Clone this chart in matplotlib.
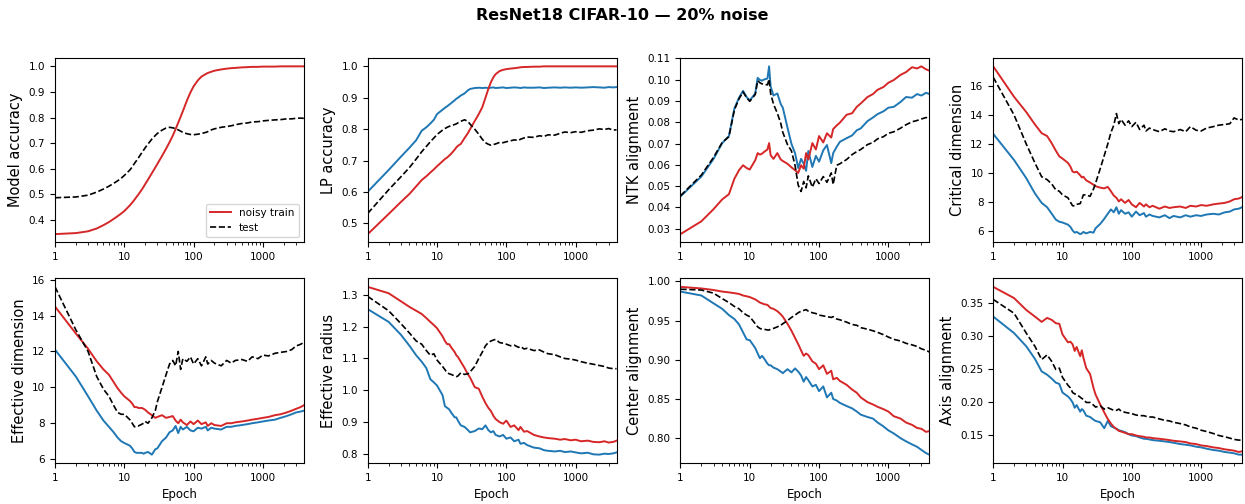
import matplotlib
matplotlib.use("Agg")
import matplotlib.pyplot as plt
from matplotlib.ticker import FuncFormatter, NullFormatter, LogLocator, MultipleLocator

# ---------------- data ----------------
epochs = [1, 2, 3, 4, 5, 6, 7, 8, 9, 10,
          12, 13, 14, 15, 16, 18, 19, 20,
          22, 25, 28, 30, 35, 40, 45, 50, 55, 60, 65, 70,
          80, 90, 100, 115, 130, 150, 160, 180, 200,
          250, 300, 350, 400, 500, 600, 700, 850, 1000,
          1200, 1500, 1800, 2200, 2600, 3000, 3500, 3900]

acc_noisy = [0.345, 0.349, 0.356, 0.367, 0.380, 0.392, 0.404, 0.415, 0.425, 0.435,
             0.457, 0.468, 0.479, 0.490, 0.500, 0.520, 0.530, 0.540,
             0.558, 0.583, 0.605, 0.619, 0.650, 0.678, 0.704, 0.729, 0.755, 0.780, 0.803, 0.825,
             0.866, 0.898, 0.922, 0.945, 0.960, 0.970, 0.974, 0.979, 0.983,
             0.988, 0.991, 0.993, 0.994, 0.996, 0.997, 0.998, 0.998, 0.999,
             0.999, 0.999, 1.000, 1.000, 1.000, 1.000, 1.000, 1.000]
acc_test = [0.487, 0.490, 0.497, 0.509, 0.521, 0.532, 0.543, 0.553, 0.563, 0.574,
            0.595, 0.607, 0.621, 0.632, 0.643, 0.664, 0.673, 0.682,
            0.697, 0.716, 0.730, 0.738, 0.751, 0.759, 0.762, 0.760, 0.757, 0.752, 0.747, 0.742,
            0.737, 0.734, 0.733, 0.735, 0.738, 0.742, 0.745, 0.752, 0.756,
            0.762, 0.765, 0.768, 0.772, 0.777, 0.779, 0.783, 0.784, 0.787,
            0.789, 0.791, 0.792, 0.795, 0.795, 0.797, 0.798, 0.797]

lp_noisy = [0.466, 0.530, 0.568, 0.594, 0.618, 0.638, 0.650, 0.662, 0.672, 0.682,
            0.698, 0.705, 0.710, 0.716, 0.722, 0.735, 0.742, 0.747,
            0.753, 0.772, 0.788, 0.800, 0.826, 0.848, 0.870, 0.900, 0.928, 0.950, 0.965, 0.975,
            0.985, 0.989, 0.991, 0.993, 0.994, 0.996, 0.997, 0.998, 0.998,
            0.999, 0.999, 1.000, 1.000, 1.000, 1.000, 1.000, 1.000, 1.000,
            1.000, 1.000, 1.000, 1.000, 1.000, 1.000, 1.000, 1.000]
lp_clean = [0.601, 0.670, 0.712, 0.741, 0.765, 0.795, 0.806, 0.818, 0.830, 0.848,
            0.862, 0.868, 0.873, 0.878, 0.883, 0.892, 0.897, 0.900,
            0.907, 0.914, 0.924, 0.928, 0.931, 0.932, 0.931, 0.932, 0.931, 0.932, 0.933, 0.931,
            0.932, 0.933, 0.931, 0.932, 0.933, 0.932, 0.931, 0.933, 0.932,
            0.932, 0.933, 0.931, 0.932, 0.933, 0.932, 0.933, 0.932, 0.933,
            0.932, 0.933, 0.934, 0.933, 0.932, 0.934, 0.933, 0.934]
lp_test = [0.532, 0.607, 0.648, 0.678, 0.705, 0.728, 0.745, 0.760, 0.772, 0.783,
           0.797, 0.802, 0.806, 0.809, 0.811, 0.815, 0.817, 0.820,
           0.825, 0.830, 0.824, 0.816, 0.800, 0.784, 0.768, 0.757, 0.752, 0.749, 0.751, 0.753,
           0.758, 0.757, 0.760, 0.763, 0.766, 0.764, 0.768, 0.772, 0.775,
           0.774, 0.779, 0.777, 0.782, 0.781, 0.787, 0.791, 0.789, 0.792,
           0.790, 0.795, 0.797, 0.801, 0.799, 0.802, 0.797, 0.798]

ntk_noisy = [0.0275, 0.0335, 0.0392, 0.0438, 0.0462, 0.0535, 0.0575, 0.0598, 0.0585, 0.0578,
             0.0622, 0.0655, 0.0648, 0.0652, 0.0660, 0.0672, 0.0702, 0.0645,
             0.0628, 0.0655, 0.0625, 0.0618, 0.0605, 0.0588, 0.0575, 0.0562, 0.0598, 0.0582, 0.0655, 0.0625,
             0.0702, 0.0672, 0.0735, 0.0705, 0.0748, 0.0728, 0.0768, 0.0785, 0.0798,
             0.0835, 0.0842, 0.0872, 0.0888, 0.0918, 0.0932, 0.0952, 0.0965, 0.0985,
             0.0998, 0.1022, 0.1035, 0.1058, 0.1052, 0.1062, 0.1048, 0.1042]
ntk_clean = [0.0452, 0.0545, 0.0628, 0.0702, 0.0735, 0.0865, 0.0915, 0.0947, 0.0918, 0.0902,
             0.0935, 0.1008, 0.0998, 0.0995, 0.1000, 0.1005, 0.1062, 0.0968,
             0.0925, 0.0935, 0.0885, 0.0868, 0.0775, 0.0698, 0.0655, 0.0585, 0.0628, 0.0605, 0.0572, 0.0665,
             0.0590, 0.0642, 0.0615, 0.0668, 0.0693, 0.0608, 0.0655, 0.0685, 0.0708,
             0.0725, 0.0738, 0.0762, 0.0771, 0.0805, 0.0822, 0.0838, 0.0851, 0.0868,
             0.0872, 0.0895, 0.0918, 0.0915, 0.0932, 0.0925, 0.0938, 0.0932]
ntk_test = [0.0455, 0.0552, 0.0635, 0.0705, 0.0732, 0.0858, 0.0910, 0.0942, 0.0915, 0.0898,
            0.0930, 0.0995, 0.0985, 0.0980, 0.0978, 0.0975, 0.1002, 0.0935,
            0.0885, 0.0842, 0.0795, 0.0752, 0.0695, 0.0665, 0.0598, 0.0505, 0.0475, 0.0522, 0.0492, 0.0548,
            0.0495, 0.0535, 0.0512, 0.0545, 0.0518, 0.0562, 0.0508, 0.0598, 0.0605,
            0.0625, 0.0648, 0.0662, 0.0672, 0.0695, 0.0705, 0.0722, 0.0732, 0.0748,
            0.0755, 0.0772, 0.0788, 0.0802, 0.0808, 0.0815, 0.0822, 0.0818]

crit_noisy = [17.35, 15.25, 14.2, 13.35, 12.75, 12.55, 12.05, 11.55, 11.15, 11.0,
              10.7, 10.45, 10.1, 10.05, 10.1, 9.85, 9.7, 9.75,
              9.5, 9.35, 9.2, 9.1, 9.0, 8.95, 9.05, 8.75, 8.45, 8.3, 8.05, 8.2,
              7.95, 8.15, 7.85, 7.65, 7.95, 7.7, 7.85, 7.65, 7.75,
              7.55, 7.7, 7.6, 7.65, 7.7, 7.6, 7.75, 7.7, 7.8,
              7.75, 7.85, 7.9, 7.95, 8.05, 8.2, 8.25, 8.35]
crit_clean = [12.7, 10.9, 9.65, 8.6, 7.95, 7.65, 7.2, 6.8, 6.65, 6.6,
              6.45, 6.3, 6.05, 5.9, 5.95, 5.8, 5.85, 5.95,
              5.85, 5.95, 5.9, 6.2, 6.5, 6.85, 7.2, 7.5, 7.3, 7.65, 7.2, 7.45,
              7.2, 7.3, 7.0, 7.35, 7.1, 7.25, 7.0, 7.15, 7.05,
              6.95, 7.1, 6.9, 7.05, 6.95, 7.1, 7.0, 7.1, 7.05,
              7.15, 7.2, 7.15, 7.3, 7.35, 7.5, 7.55, 7.65]
crit_test = [16.6, 14.0, 12.0, 10.7, 9.75, 9.55, 9.25, 8.85, 8.75, 8.5,
             8.3, 8.0, 7.75, 7.75, 7.85, 7.9, 8.2, 8.5,
             8.5, 8.4, 8.9, 9.3, 10.3, 11.2, 12.0, 12.8, 13.3, 14.1, 13.4, 13.7,
             13.3, 13.6, 13.2, 13.5, 13.0, 13.3, 12.9, 13.1, 13.0,
             12.85, 13.05, 12.9, 12.85, 13.0, 12.85, 13.2, 12.95, 12.9,
             13.1, 13.2, 13.3, 13.35, 13.4, 13.8, 13.65, 13.7]

eff_noisy = [14.5, 13.0, 12.15, 11.45, 11.0, 10.7, 10.3, 9.95, 9.7, 9.5,
             9.25, 9.1, 8.9, 8.9, 8.85, 8.85, 8.8, 8.75,
             8.6, 8.45, 8.3, 8.35, 8.45, 8.3, 8.35, 8.4, 8.15, 8.0, 8.2, 8.05,
             7.9, 8.1, 7.95, 8.15, 7.95, 8.05, 7.85, 8.0, 7.9,
             7.85, 8.0, 8.0, 8.05, 8.1, 8.15, 8.2, 8.25, 8.3,
             8.35, 8.45, 8.5, 8.6, 8.7, 8.8, 8.9, 9.0]
eff_clean = [12.1, 10.6, 9.5, 8.7, 8.15, 7.8, 7.5, 7.2, 7.0, 6.9,
             6.75, 6.6, 6.4, 6.35, 6.35, 6.35, 6.3, 6.35,
             6.4, 6.25, 6.55, 6.6, 7.0, 7.2, 7.5, 7.6, 7.85, 7.45, 7.8, 7.65,
             7.8, 7.6, 7.55, 7.75, 7.7, 7.8, 7.6, 7.75, 7.7,
             7.65, 7.8, 7.8, 7.85, 7.9, 7.95, 8.0, 8.05, 8.1,
             8.15, 8.2, 8.3, 8.4, 8.5, 8.6, 8.65, 8.7]
eff_test = [15.6, 13.2, 12.0, 10.6, 9.9, 9.5, 9.0, 8.6, 8.5, 8.5,
            8.2, 8.0, 7.8, 7.85, 7.85, 7.95, 8.0, 8.1,
            8.0, 8.3, 8.7, 9.2, 10.0, 10.7, 11.3, 11.5, 11.2, 12.0, 11.0, 11.6,
            11.45, 11.7, 11.3, 11.6, 11.2, 11.7, 11.3, 11.5, 11.35,
            11.2, 11.5, 11.35, 11.5, 11.55, 11.45, 11.7, 11.6, 11.8,
            11.75, 11.9, 11.95, 12.0, 12.1, 12.3, 12.4, 12.5]

rad_noisy = [1.325, 1.305, 1.28, 1.262, 1.25, 1.24, 1.227, 1.215, 1.205, 1.195,
             1.17, 1.155, 1.145, 1.145, 1.135, 1.12, 1.11, 1.105,
             1.09, 1.07, 1.05, 1.04, 1.01, 1.005, 0.98, 0.96, 0.945, 0.935, 0.92, 0.91,
             0.9, 0.895, 0.905, 0.885, 0.89, 0.875, 0.885, 0.87, 0.872,
             0.86, 0.855, 0.852, 0.85, 0.848, 0.845, 0.847, 0.843, 0.845,
             0.84, 0.842, 0.838, 0.837, 0.84, 0.836, 0.838, 0.842]
rad_clean = [1.255, 1.215, 1.175, 1.14, 1.11, 1.09, 1.07, 1.035, 1.025, 1.015,
             0.985, 0.95, 0.945, 0.94, 0.93, 0.915, 0.915, 0.905,
             0.89, 0.885, 0.875, 0.868, 0.872, 0.88, 0.878, 0.89, 0.875, 0.868, 0.872, 0.86,
             0.855, 0.86, 0.848, 0.852, 0.84, 0.845, 0.832, 0.835, 0.828,
             0.82, 0.818, 0.812, 0.81, 0.808, 0.81, 0.806, 0.808, 0.805,
             0.802, 0.804, 0.799, 0.798, 0.801, 0.8, 0.802, 0.805]
rad_test = [1.295, 1.25, 1.21, 1.18, 1.155, 1.145, 1.125, 1.11, 1.115, 1.095,
            1.075, 1.065, 1.055, 1.052, 1.05, 1.045, 1.043, 1.045,
            1.055, 1.05, 1.052, 1.058, 1.075, 1.1, 1.12, 1.14, 1.15, 1.155, 1.158, 1.16,
            1.15, 1.148, 1.145, 1.14, 1.142, 1.135, 1.138, 1.13, 1.132,
            1.125, 1.127, 1.12, 1.115, 1.112, 1.105, 1.1, 1.098, 1.095,
            1.09, 1.085, 1.082, 1.078, 1.075, 1.07, 1.068, 1.068]

cen_noisy = [0.993, 0.991, 0.989, 0.987, 0.986, 0.985, 0.984, 0.982, 0.981, 0.98,
             0.977, 0.975, 0.973, 0.972, 0.971, 0.97, 0.968, 0.966,
             0.965, 0.962, 0.958, 0.955, 0.946, 0.937, 0.928, 0.92, 0.912, 0.905, 0.908, 0.906,
             0.898, 0.895, 0.888, 0.893, 0.882, 0.886, 0.875, 0.877, 0.873,
             0.868, 0.862, 0.858, 0.852, 0.846, 0.843, 0.84, 0.837, 0.834,
             0.828, 0.825, 0.82, 0.817, 0.813, 0.812, 0.808, 0.809]
cen_clean = [0.987, 0.982, 0.972, 0.965, 0.957, 0.952, 0.945, 0.935, 0.926, 0.925,
             0.915, 0.908, 0.902, 0.905, 0.902, 0.895, 0.893, 0.893,
             0.89, 0.888, 0.885, 0.883, 0.888, 0.884, 0.889, 0.885, 0.88, 0.872, 0.878, 0.874,
             0.866, 0.868, 0.86, 0.866, 0.852, 0.858, 0.85, 0.848, 0.845,
             0.841, 0.838, 0.834, 0.83, 0.827, 0.825, 0.82, 0.815, 0.81,
             0.806, 0.8, 0.796, 0.792, 0.789, 0.785, 0.781, 0.779]
cen_test = [0.99, 0.989, 0.985, 0.978, 0.973, 0.968, 0.965, 0.96, 0.957, 0.955,
            0.946, 0.942, 0.94, 0.939, 0.939, 0.938, 0.938, 0.939,
            0.94, 0.942, 0.944, 0.946, 0.95, 0.954, 0.957, 0.96, 0.962, 0.963, 0.964, 0.962,
            0.96, 0.959, 0.957, 0.956, 0.955, 0.954, 0.955, 0.952, 0.951,
            0.948, 0.945, 0.944, 0.941, 0.939, 0.937, 0.935, 0.932, 0.929,
            0.926, 0.924, 0.921, 0.919, 0.917, 0.914, 0.912, 0.91]

axis_noisy = [0.375, 0.358, 0.34, 0.33, 0.322, 0.328, 0.325, 0.32, 0.319, 0.303,
              0.291, 0.292, 0.288, 0.278, 0.284, 0.27, 0.279, 0.268,
              0.252, 0.243, 0.222, 0.212, 0.197, 0.185, 0.175, 0.168, 0.163, 0.16, 0.157, 0.156,
              0.154, 0.152, 0.152, 0.15, 0.149, 0.148, 0.147, 0.147, 0.146,
              0.145, 0.144, 0.143, 0.142, 0.141, 0.14, 0.138, 0.137, 0.135,
              0.134, 0.132, 0.131, 0.129, 0.128, 0.127, 0.125, 0.126]
axis_clean = [0.33, 0.305, 0.285, 0.266, 0.247, 0.242, 0.236, 0.23, 0.228, 0.215,
              0.209, 0.205, 0.2, 0.192, 0.196, 0.186, 0.19, 0.188,
              0.18, 0.178, 0.174, 0.172, 0.17, 0.161, 0.172, 0.164, 0.162, 0.16, 0.158, 0.157,
              0.155, 0.152, 0.15, 0.149, 0.147, 0.145, 0.145, 0.144, 0.143,
              0.142, 0.141, 0.14, 0.139, 0.137, 0.136, 0.135, 0.133, 0.132,
              0.13, 0.128, 0.127, 0.125, 0.124, 0.123, 0.121, 0.121]
axis_test = [0.356, 0.335, 0.305, 0.285, 0.265, 0.272, 0.262, 0.25, 0.252, 0.238,
             0.226, 0.222, 0.215, 0.213, 0.212, 0.208, 0.206, 0.205,
             0.2, 0.2, 0.196, 0.193, 0.195, 0.19, 0.192, 0.19, 0.188, 0.188, 0.19, 0.187,
             0.185, 0.184, 0.183, 0.181, 0.18, 0.18, 0.179, 0.178, 0.178,
             0.175, 0.173, 0.172, 0.17, 0.168, 0.166, 0.163, 0.161, 0.158,
             0.156, 0.153, 0.15, 0.148, 0.146, 0.144, 0.143, 0.143]

ylabels = ["Model accuracy", "LP accuracy", "NTK alignment", "Critical dimension",
           "Effective dimension", "Effective radius", "Center alignment", "Axis alignment"]
panels = [
    (acc_noisy, None, acc_test),
    (lp_noisy, lp_clean, lp_test),
    (ntk_noisy, ntk_clean, ntk_test),
    (crit_noisy, crit_clean, crit_test),
    (eff_noisy, eff_clean, eff_test),
    (rad_noisy, rad_clean, rad_test),
    (cen_noisy, cen_clean, cen_test),
    (axis_noisy, axis_clean, axis_test),
]
for p in panels:
    for s in p:
        if s is not None:
            assert len(s) == len(epochs), len(s)

RED = "#d62728"
BLUE = "#1f77b4"

fig, axes = plt.subplots(2, 4, figsize=(12.45, 5.04), dpi=100)
fig.subplots_adjust(left=0.0442, right=0.9976, top=0.885, bottom=0.0813,
                    wspace=0.257, hspace=0.195)

for i, (ax, (noisy, clean, test), yl) in enumerate(zip(axes.flat, panels, ylabels)):
    if clean is not None:
        ax.plot(epochs, clean, color=BLUE, lw=1.4)
    ax.plot(epochs, noisy, color=RED, lw=1.4, label="noisy train")
    ax.plot(epochs, test, color="black", lw=1.2, ls="--", label="test")
    ax.set_xscale("log")
    ax.set_xlim(1, 3900)
    ax.xaxis.set_major_locator(LogLocator(base=10))
    ax.xaxis.set_major_formatter(FuncFormatter(lambda v, p: f"{v:g}"))
    ax.xaxis.set_minor_formatter(NullFormatter())
    ax.tick_params(labelsize=7.5)
    ax.set_ylabel(yl, fontsize=10.5)
    if i == 2:
        ax.yaxis.set_major_locator(MultipleLocator(0.01))
    if i >= 4:
        ax.set_xlabel("Epoch", fontsize=8.5)
    if i == 0:
        ax.legend(loc="lower right", fontsize=7.5)

fig.suptitle("ResNet18 CIFAR-10 \u2014 20% noise", fontsize=11.5, fontweight="bold", y=0.985)

fig.savefig("out.png", dpi=100)
